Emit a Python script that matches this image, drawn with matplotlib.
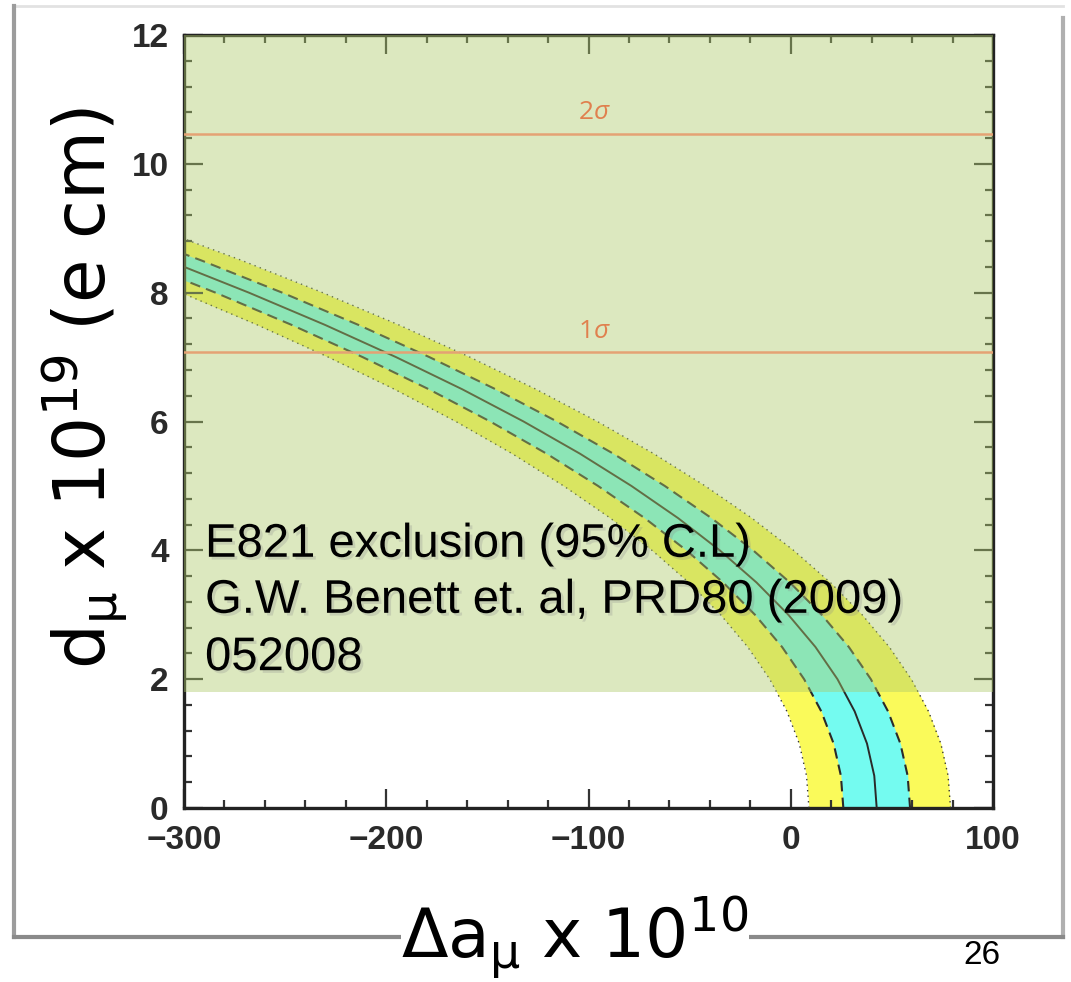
import numpy as np
import matplotlib.pyplot as plt
import matplotlib.patheffects as pe
from matplotlib.ticker import MultipleLocator
from matplotlib.lines import Line2D

d_lvl = [0, 0.5, 1, 1.5, 2, 2.5, 3, 3.5, 4, 4.5, 5, 5.5, 6, 6.5, 7, 7.5, 8, 8.5, 9]
# Delta a_mu (x 1e10) of each edge at those levels
yel_lo = [9, 7.8, 4.2, -1.9, -10.4, -21.3, -34.7, -50.4, -68.6, -89.2, -112.3,
          -137.7, -165.6, -195.9, -228.7, -263.8, -301.4, -341.4, -383.9]
cya_lo = [26, 24.8, 21.2, 15.1, 6.6, -4.3, -17.7, -33.4, -51.6, -72.2, -95.3,
          -120.7, -148.6, -178.9, -211.7, -246.8, -284.4, -324.4, -366.9]
centre = [42.5, 41.3, 37.7, 31.6, 23.1, 12.2, -1.2, -16.9, -35.1, -55.7, -78.8,
          -104.2, -132.1, -162.4, -195.2, -230.3, -267.9, -307.9, -350.4]
cya_hi = [59, 57.8, 54.2, 48.1, 39.6, 28.7, 15.3, -0.4, -18.6, -39.2, -62.3,
          -87.7, -115.6, -145.9, -178.7, -213.8, -251.4, -291.4, -333.9]
yel_hi = [79, 77.8, 74.2, 68.1, 59.6, 48.7, 35.3, 19.6, 1.4, -19.2, -42.3,
          -67.7, -95.6, -125.9, -158.7, -193.8, -231.4, -271.4, -313.9]

sig_lvl = [10.47, 7.08]
sig_txt = [r'$2\sigma$', r'$1\sigma$']
excl_lim = 1.8   # E821 limit, everything above is excluded

note = ['E821 exclusion (95% C.L)', 'G.W. Benett et. al, PRD80 (2009)', '052008']

plt.rcParams['mathtext.fontset'] = 'custom'
plt.rcParams['mathtext.rm'] = 'Open Sans'
plt.rcParams['mathtext.it'] = 'Open Sans:italic'

W, H = 1071, 982
fig = plt.figure(figsize=(W/100, H/100), dpi=100)
ax = fig.add_axes([184/W, 1-808/H, (993-184)/W, (808-35)/H])

ax.fill_betweenx(d_lvl, yel_lo, yel_hi, color='#fafa5a', lw=0, zorder=1)
ax.fill_betweenx(d_lvl, cya_lo, cya_hi, color='#74fbf0', lw=0, zorder=2)
ax.plot(yel_lo, d_lvl, color='#333333', lw=1, ls=(0, (1, 3)), zorder=3)
ax.plot(yel_hi, d_lvl, color='#333333', lw=1, ls=(0, (1, 3)), zorder=3)
ax.plot(cya_lo, d_lvl, color='#2a2a2a', lw=1.5, ls=(0, (5, 3)), zorder=3)
ax.plot(cya_hi, d_lvl, color='#2a2a2a', lw=1.5, ls=(0, (5, 3)), zorder=3)
ax.plot(centre, d_lvl, color='#2a2a2a', lw=1.4, zorder=3)

ax.axhspan(excl_lim, 12, color='#aeca6b', alpha=0.43, lw=0, zorder=4)

for v, t in zip(sig_lvl, sig_txt):
    ax.axhline(v, color='#e4a274', lw=1.8, zorder=5)
    ax.text(-97, v + 0.33, t, color='#e0804e', fontsize=19, ha='center',
            va='center', zorder=5)

base = [3.90, 3.03, 2.14]
for s, b in zip(note, base):
    ax.text(-289.6, b, s, fontsize=34, family='Liberation Sans', color='black',
            va='baseline', ha='left', zorder=6,
            path_effects=[pe.SimplePatchShadow(offset=(2, -2), shadow_rgbFace='#888888', alpha=0.25),
                          pe.Normal()])

ax.set_xlim(-300, 100)
ax.set_ylim(0, 12)
ax.xaxis.set_major_locator(MultipleLocator(100))
ax.xaxis.set_minor_locator(MultipleLocator(20))
ax.yaxis.set_major_locator(MultipleLocator(2))
ax.yaxis.set_minor_locator(MultipleLocator(0.4))
ax.tick_params(which='both', direction='in', top=True, right=True, color='#333333', width=1.6)
ax.tick_params(which='major', length=14)
ax.tick_params(which='minor', length=6)
ax.tick_params(axis='x', pad=12)
ax.tick_params(axis='y', pad=11)
for lab in ax.get_xticklabels() + ax.get_yticklabels():
    lab.set_family('Liberation Sans')
    lab.set_fontweight('bold')
    lab.set_fontsize(24)
    lab.set_color('#2a2a2a')
for sp in ax.spines.values():
    sp.set_linewidth(2.4)
    sp.set_color('#222222')

# slide frame
def fline(x1, y1, x2, y2, c, w):
    fig.add_artist(Line2D([x1/W, x2/W], [1-y1/H, 1-y2/H], color=c, lw=w,
                          transform=fig.transFigure))

fline(14, 6, 1063, 6, '#e2e2e2', 2)
fline(14, 6, 14, 937, '#9c9c9c', 3)
fline(1063, 18, 1063, 937, '#b0b0b0', 3)
fline(14, 937, 1063, 937, '#8a8a8a', 3)

fig.text(575/W, 1-958/H, r'$\mathregular{Δa_{μ}\ x\ 10^{10}}$', fontsize=49,
         ha='center', va='baseline',
         bbox=dict(facecolor='white', edgecolor='none', pad=0))
fig.text(84/W, 1-388/H, r'$\mathregular{d_{μ}\ x\ 10^{19}\ (e\ cm)}$', fontsize=51,
         ha='center', va='center', rotation=90,
         bbox=dict(facecolor='white', edgecolor='none', pad=1))
fig.text(982/W, 1-964/H, '26', fontsize=24, family='Liberation Sans',
         ha='center', va='baseline')

plt.savefig('out.png', dpi=100)
